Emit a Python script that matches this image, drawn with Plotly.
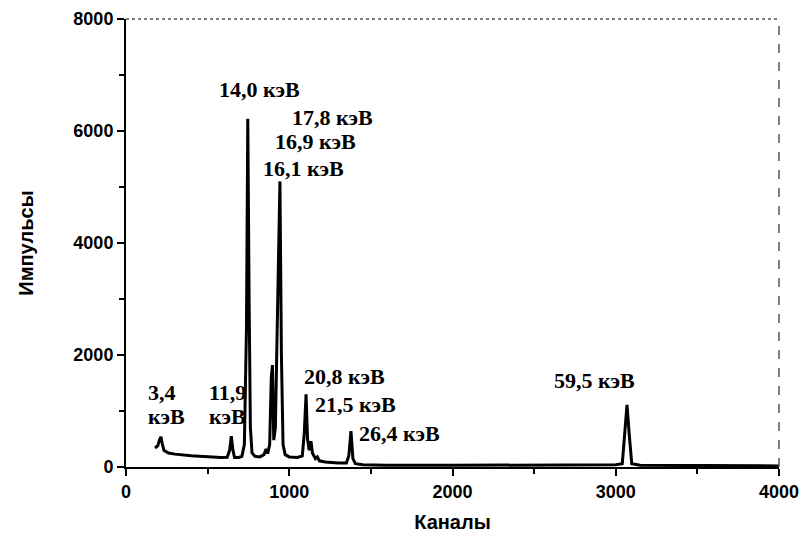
import plotly.graph_objects as go

# Spectrum (channel, counts)
channels = [178, 195, 205, 214, 222, 232, 260, 300, 400, 500, 580, 620, 635, 645, 655, 665, 690, 710,
            725, 738, 746, 754, 762, 772, 790, 820, 845, 858, 868, 880, 890, 897, 905, 915, 930, 943,
            952, 962, 975, 1000, 1050, 1080, 1092, 1103, 1112, 1122, 1133, 1142, 1160, 1172, 1185,
            1220, 1300, 1350, 1365, 1378, 1390, 1405, 1450, 1600, 2000, 2500, 3000, 3040, 3055, 3069,
            3082, 3098, 3150, 3500, 4000]
counts = [340, 380, 480, 540, 420, 300, 250, 230, 200, 180, 170, 175, 300, 550, 300, 170, 170, 190,
          400, 2500, 6220, 3000, 700, 250, 190, 180, 220, 320, 240, 400, 1600, 1820, 480, 700, 3500, 5100,
          2000, 400, 220, 180, 170, 200, 600, 1300, 500, 300, 460, 250, 150, 180, 110,
          90, 70, 70, 200, 640, 150, 60, 40, 30, 30, 30, 40, 60, 600, 1110,
          600, 60, 30, 25, 20]

x_ticks = [0, 1000, 2000, 3000, 4000]
y_ticks = [0, 2000, 4000, 6000, 8000]

peak_labels = ["14,0 кэВ", "17,8 кэВ", "16,9 кэВ", "16,1 кэВ", "3,4", "кэВ", "11,9", "кэВ",
               "20,8 кэВ", "21,5 кэВ", "26,4 кэВ", "59,5 кэВ"]
label_x = [557, 1005, 900, 827, 123, 123, 496, 496, 1078, 1145, 1415, 2609]
label_y = [6750, 6250, 5804, 5339, 1339, 893, 1339, 893, 1625, 1125, 607, 1536]

fig = go.Figure()
fig.add_trace(go.Scatter(x=channels, y=counts, mode="lines",
                         line=dict(color="black", width=3), showlegend=False))

for t, lx, ly in zip(peak_labels, label_x, label_y):
    fig.add_annotation(x=lx, y=ly, text=f"<b>{t}</b>", showarrow=False, xanchor="left", yanchor="middle",
                       font=dict(family="Liberation Serif", size=22, color="black"))

axis_font = dict(family="Liberation Sans", size=18, color="black")
title_font = dict(family="Liberation Sans", size=20, color="black")
fig.update_layout(
    width=803, height=536,
    margin=dict(l=126, r=24, t=19, b=69),
    paper_bgcolor="white", plot_bgcolor="white",
    xaxis=dict(range=[0, 4000], tickvals=x_ticks, ticktext=[f"<b>{v}</b>" for v in x_ticks],
               automargin=False,
               showgrid=False, zeroline=False, showline=True, linecolor="black", linewidth=2,
               ticks="outside", ticklen=7, tickwidth=2, tickcolor="black", tickfont=axis_font,
               minor=dict(dtick=500, ticks="outside", ticklen=5, tickwidth=1.5, tickcolor="black"),
               title=dict(text="<b>Каналы</b>", font=title_font, standoff=14)),
    yaxis=dict(range=[0, 8000], tickvals=y_ticks, ticktext=[f"<b>{v}</b>" for v in y_ticks],
               automargin=False,
               showgrid=False, zeroline=False, showline=True, linecolor="black", linewidth=2,
               ticks="outside", ticklen=7, tickwidth=2, tickcolor="black", tickfont=axis_font,
               minor=dict(dtick=1000, ticks="outside", ticklen=5, tickwidth=1.5, tickcolor="black"),
               title=dict(text="<b>Импульсы</b>", font=title_font, standoff=34)),
)
# Dotted top frame and dashed right frame
fig.add_shape(type="line", xref="paper", yref="paper", x0=0, x1=1, y0=1, y1=1,
              line=dict(color="#555", width=1.5, dash="dot"))
fig.add_shape(type="line", xref="paper", yref="paper", x0=1, x1=1, y0=0, y1=1,
              line=dict(color="#555", width=1.5, dash="dash"))

fig.write_html("out.html")
